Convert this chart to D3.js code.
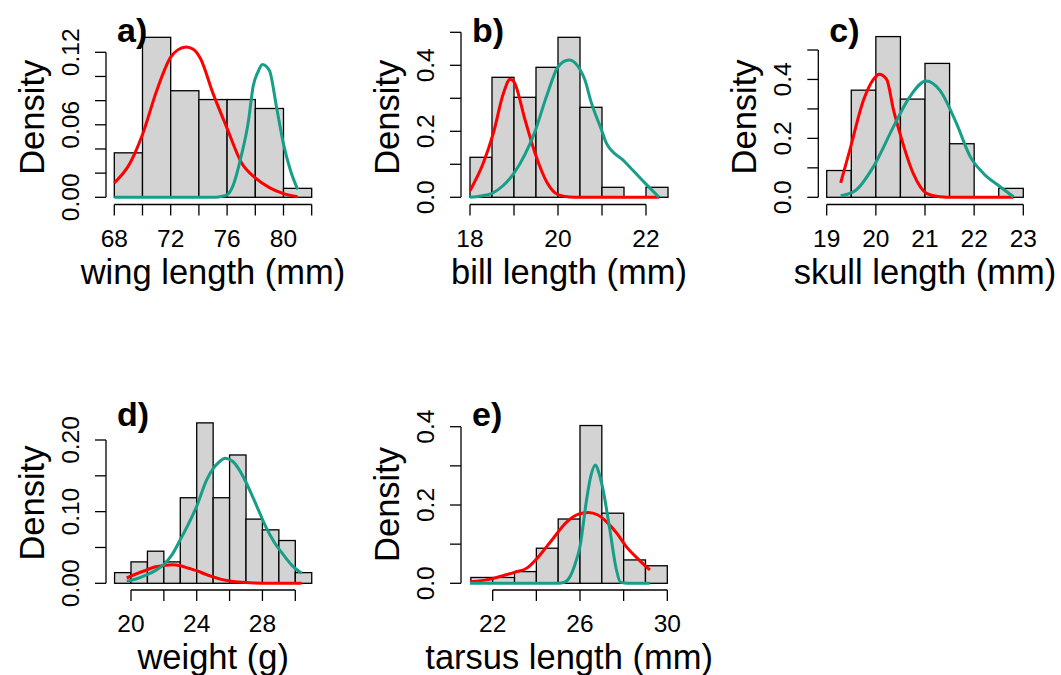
<!DOCTYPE html>
<html>
<head>
<meta charset="utf-8">
<script src="https://cdn.jsdelivr.net/npm/d3@7"></script>
<style>
  html, body { margin: 0; padding: 0; background: #fff; }
  svg { display: block; }
  text { font-family: "Liberation Sans", Arial, sans-serif; fill: #000; }
</style>
</head>
<body>
<svg id="chart" width="1061" height="675"></svg>
<script>
// ---------- data ----------
// a) wing length
const aBreaks  = [68, 70, 72, 74, 76, 78, 80, 82];
const aDensity = [0.0368, 0.1324, 0.0882, 0.0809, 0.0809, 0.0735, 0.0074];
const aRedX  = [68, 69.1, 70, 71, 72, 72.5, 73.1, 73.6, 74.1, 75, 76, 77, 78, 79, 80, 81];
const aRedY  = [0.012, 0.028, 0.052, 0.088, 0.116, 0.122, 0.1244, 0.1225, 0.115, 0.086, 0.057, 0.029, 0.016, 0.008, 0.003, 0.0005];
const aTealX = [68, 72, 75, 75.5, 76, 76.4, 77, 77.5, 77.85, 78.2, 78.5, 79, 79.5, 80, 80.5, 81];
const aTealY = [0, 0, 0, 0.0005, 0.002, 0.009, 0.034, 0.062, 0.092, 0.104, 0.110, 0.105, 0.075, 0.044, 0.022, 0.0066];

// b) bill length
const bBreaks  = [18, 18.5, 19, 19.5, 20, 20.5, 21, 21.5, 22, 22.5];
const bDensity = [0.1212, 0.3636, 0.3030, 0.3939, 0.4848, 0.2727, 0.0303, 0, 0.0303];
const bRedX  = [18, 18.3, 18.53, 18.76, 18.91, 19.0, 19.25, 19.5, 19.75, 20.0, 20.25, 20.5, 21.5, 22.3];
const bRedY  = [0.02, 0.103, 0.194, 0.315, 0.358, 0.35, 0.235, 0.125, 0.045, 0.008, 0.001, 0, 0, 0];
const bTealX = [18, 18.25, 18.5, 18.75, 19, 19.25, 19.45, 19.75, 20, 20.25, 20.6, 20.75, 21.0, 21.1, 21.5, 22.0, 22.3];
const bTealY = [0, 0.004, 0.012, 0.035, 0.073, 0.13, 0.19, 0.31, 0.395, 0.416, 0.36, 0.29, 0.2, 0.164, 0.11, 0.04, 0];

// c) skull length
const cBreaks  = [19, 19.5, 20, 20.5, 21, 21.5, 22, 22.5, 23];
const cDensity = [0.0909, 0.3636, 0.5455, 0.3333, 0.4545, 0.1818, 0, 0.0303];
const cRedX  = [19.285, 19.47, 19.75, 19.95, 20.07, 20.22, 20.36, 20.49, 20.76, 21.03, 21.3, 21.6, 22.8];
const cRedY  = [0.049, 0.16, 0.33, 0.40, 0.418, 0.40, 0.296, 0.217, 0.081, 0.0136, 0.002, 0, 0];
const cTealX = [19.285, 19.6, 19.95, 20.36, 20.69, 21.02, 21.3, 21.64, 21.92, 22.19, 22.53, 22.8];
const cTealY = [0.005, 0.025, 0.104, 0.24, 0.341, 0.395, 0.364, 0.251, 0.138, 0.081, 0.036, 0.002];

// d) weight
const dBreaks  = [19, 20, 21, 22, 23, 24, 25, 26, 27, 28, 29, 30, 31];
const dDensity = [0.0149, 0.0299, 0.0448, 0.0299, 0.1194, 0.2239, 0.1194, 0.1791, 0.0896, 0.0746, 0.0597, 0.0149];
const dRedX  = [19.74, 20.3, 20.95, 21.5, 22.0, 22.5, 23.0, 23.5, 24.0, 24.5, 25.0, 25.5, 26, 26.5, 27, 27.5, 28, 29, 30.38];
const dRedY  = [0.0075, 0.013, 0.0186, 0.023, 0.025, 0.0258, 0.0245, 0.021, 0.0176, 0.013, 0.009, 0.0055, 0.0032, 0.0018, 0.001, 0.0005, 0.0002, 0, 0];
const dTealX = [19.74, 20.3, 20.95, 21.5, 21.97, 22.5, 22.98, 23.5, 23.99, 24.6, 25.0, 25.4, 25.74, 26.2, 26.6, 27.0, 27.4, 27.8, 28.2, 28.7, 29.2, 29.8, 30.38];
const dTealY = [0.003, 0.006, 0.0116, 0.018, 0.0256, 0.040, 0.060, 0.083, 0.107, 0.144, 0.160, 0.170, 0.1745, 0.170, 0.158, 0.141, 0.121, 0.100, 0.079, 0.058, 0.042, 0.025, 0.014];

// e) tarsus length
const eBreaks  = [21, 22, 23, 24, 25, 26, 27, 28, 29, 30];
const eDensity = [0.0149, 0.0149, 0.0299, 0.0896, 0.1642, 0.4030, 0.1791, 0.0597, 0.0448];
const eRedX  = [20.96, 22.0, 22.5, 23.0, 23.6, 24.1, 24.65, 25.4, 25.9, 26.38, 26.8, 27.22, 27.7, 28.13, 28.7, 29.2];
const eRedY  = [0.004, 0.012, 0.02, 0.028, 0.040, 0.068, 0.106, 0.157, 0.176, 0.181, 0.175, 0.157, 0.127, 0.093, 0.06, 0.034];
const eTealX = [20.96, 25.0, 25.3, 25.54, 25.75, 26.0, 26.3, 26.5, 26.71, 26.85, 27.06, 27.37, 27.67, 27.85, 28.2, 29.2];
const eTealY = [0, 0, 0.003, 0.017, 0.045, 0.094, 0.213, 0.275, 0.302, 0.285, 0.238, 0.136, 0.034, 0.003, 0, 0];

// tick values / labels
const aXTicks = [68, 70, 72, 74, 76, 78, 80, 82], aXLabels = [68, 72, 76, 80];
const aYTicks = [0, 0.02, 0.04, 0.06, 0.08, 0.10, 0.12], aYLabels = ["0.00", "0.06", "0.12"];
const bXTicks = [18, 19, 20, 21, 22], bXLabels = [18, 20, 22];
const bYTicks = [0, 0.1, 0.2, 0.3, 0.4, 0.5], bYLabels = ["0.0", "0.2", "0.4"];
const cXTicks = [19, 20, 21, 22, 23], cXLabels = [19, 20, 21, 22, 23];
const cYTicks = [0, 0.1, 0.2, 0.3, 0.4, 0.5], cYLabels = ["0.0", "0.2", "0.4"];
const dXTicks = [20, 22, 24, 26, 28, 30], dXLabels = [20, 24, 28];
const dYTicks = [0, 0.05, 0.10, 0.15, 0.20], dYLabels = ["0.00", "0.10", "0.20"];
const eXTicks = [22, 24, 26, 28, 30], eXLabels = [22, 26, 30];
const eYTicks = [0, 0.1, 0.2, 0.3, 0.4], eYLabels = ["0.0", "0.2", "0.4"];

const panelTags   = ["a)", "b)", "c)", "d)", "e)"];
const panelTitles = ["wing length (mm)", "bill length (mm)", "skull length (mm)", "weight (g)", "tarsus length (mm)"];

// ---------- layout (pixel geometry of each panel) ----------
const layout = [
  { xd: [68, 82], xr: [114.3, 311.7], yd: [0, 0.12], yr: [197.3, 52.3], axX: 106,   axY: 204.5 },
  { xd: [18, 22], xr: [470, 646],     yd: [0, 0.5],  yr: [197.3, 32.3], axX: 461,   axY: 204.5 },
  { xd: [19, 23], xr: [826.7, 1023.3],yd: [0, 0.5],  yr: [197.3, 50],   axX: 818.3, axY: 204.5 },
  { xd: [20, 30], xr: [131, 295.3],   yd: [0, 0.2],  yr: [583.3, 440],  axX: 106,   axY: 590 },
  { xd: [22, 30], xr: [492.7, 667.3], yd: [0, 0.4],  yr: [583.3, 426.7],axX: 461,   axY: 590 }
];

const panels = [
  { breaks: aBreaks, dens: aDensity, red: [aRedX, aRedY], teal: [aTealX, aTealY], xt: aXTicks, xl: aXLabels, yt: aYTicks, yl: aYLabels },
  { breaks: bBreaks, dens: bDensity, red: [bRedX, bRedY], teal: [bTealX, bTealY], xt: bXTicks, xl: bXLabels, yt: bYTicks, yl: bYLabels },
  { breaks: cBreaks, dens: cDensity, red: [cRedX, cRedY], teal: [cTealX, cTealY], xt: cXTicks, xl: cXLabels, yt: cYTicks, yl: cYLabels },
  { breaks: dBreaks, dens: dDensity, red: [dRedX, dRedY], teal: [dTealX, dTealY], xt: dXTicks, xl: dXLabels, yt: dYTicks, yl: dYLabels },
  { breaks: eBreaks, dens: eDensity, red: [eRedX, eRedY], teal: [eTealX, eTealY], xt: eXTicks, xl: eXLabels, yt: eYTicks, yl: eYLabels }
];

const RED = "#ff0000", TEAL = "#169e88", BAR = "#d3d3d3";
const TICK = 11, TICKFONT = 24.5, TITLEFONT = 34.5, TAGFONT = 34;

const svg = d3.select("#chart");
svg.append("rect").attr("width", 1061).attr("height", 675).attr("fill", "#fff");

panels.forEach((p, i) => {
  const L = layout[i];
  const x = d3.scaleLinear().domain(L.xd).range(L.xr);
  const y = d3.scaleLinear().domain(L.yd).range(L.yr);
  const g = svg.append("g");

  // histogram bars
  const bins = p.dens.map((v, k) => ({ x0: p.breaks[k], x1: p.breaks[k + 1], v }));
  g.selectAll("rect.bar").data(bins.filter(b => b.v > 0)).join("rect")
    .attr("x", b => x(b.x0)).attr("width", b => x(b.x1) - x(b.x0))
    .attr("y", b => y(b.v)).attr("height", b => y(0) - y(b.v))
    .attr("fill", BAR).attr("stroke", "#000").attr("stroke-width", 1.3);

  // density curves
  const line = d3.line().x(d => x(d[0])).y(d => y(d[1])).curve(d3.curveMonotoneX);
  [[p.red, RED], [p.teal, TEAL]].forEach(([c, col]) => {
    const pts = c[0].map((xv, k) => [xv, c[1][k]]);
    g.append("path").attr("d", line(pts)).attr("fill", "none")
      .attr("stroke", col).attr("stroke-width", 3).attr("stroke-linejoin", "round");
  });

  // y axis (R style)
  const yAx = g.append("g").attr("transform", `translate(${L.axX},0)`);
  yAx.append("line").attr("x1", 0).attr("x2", 0)
    .attr("y1", y(p.yt[0])).attr("y2", y(p.yt[p.yt.length - 1]))
    .attr("stroke", "#000").attr("stroke-width", 1.3);
  yAx.selectAll("line.t").data(p.yt).join("line")
    .attr("x1", 0).attr("x2", -TICK).attr("y1", d => y(d)).attr("y2", d => y(d))
    .attr("stroke", "#000").attr("stroke-width", 1.3);
  yAx.selectAll("text").data(p.yl).join("text")
    .attr("transform", d => `translate(-27,${y(+d)}) rotate(-90)`)
    .attr("text-anchor", "middle").attr("font-size", TICKFONT).text(d => d);

  // x axis
  const xAx = g.append("g").attr("transform", `translate(0,${L.axY})`);
  xAx.append("line").attr("y1", 0).attr("y2", 0)
    .attr("x1", x(p.xt[0])).attr("x2", x(p.xt[p.xt.length - 1]))
    .attr("stroke", "#000").attr("stroke-width", 1.3);
  xAx.selectAll("line.t").data(p.xt).join("line")
    .attr("y1", 0).attr("y2", TICK).attr("x1", d => x(d)).attr("x2", d => x(d))
    .attr("stroke", "#000").attr("stroke-width", 1.3);
  xAx.selectAll("text").data(p.xl).join("text")
    .attr("x", d => x(d)).attr("y", 42)
    .attr("text-anchor", "middle").attr("font-size", TICKFONT).text(d => d);

  // titles
  const xMid = x((p.breaks[0] + p.breaks[p.breaks.length - 1]) / 2);
  const yMid = y(d3.max(p.dens) / 2);
  g.append("text").attr("x", xMid).attr("y", L.axY + 79)
    .attr("text-anchor", "middle").attr("font-size", TITLEFONT).text(panelTitles[i]);
  g.append("text").attr("transform", `translate(${L.axX - 62},${yMid}) rotate(-90)`)
    .attr("text-anchor", "middle").attr("font-size", TITLEFONT).text("Density");
  g.append("text").attr("x", L.axX + 11).attr("y", L.yr[0] - 155.5 + (i < 3 ? 0 : -2))
    .attr("font-size", TAGFONT).attr("font-weight", "bold").text(panelTags[i]);
});
</script>
</body>
</html>
